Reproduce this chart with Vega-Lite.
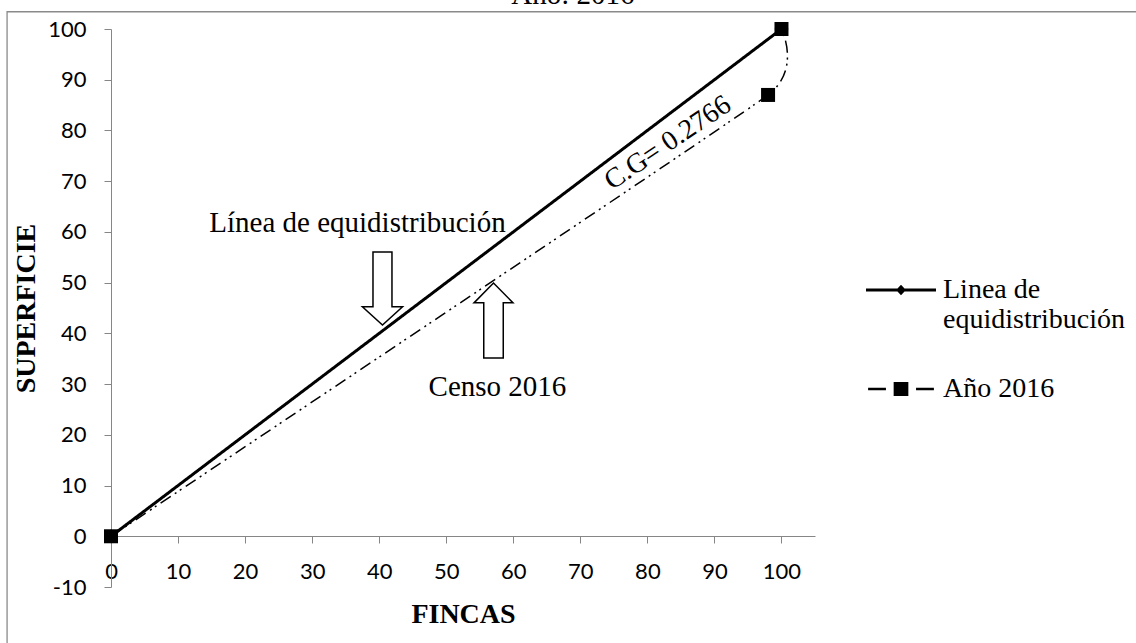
{
  "$schema": "https://vega.github.io/schema/vega-lite/v6.json",
  "autosize": {"type": "none"},
  "width": 704,
  "height": 558,
  "padding": {"left": 111, "top": 29, "right": 321, "bottom": 56},
  "background": "white",
  "config": {
    "view": {"stroke": null},
    "axis": {"grid": false, "domainColor": "#868686", "tickColor": "#868686", "tickSize": 7, "labelFont": "Lato", "labelFontSize": 22, "labelColor": "black", "titleFont": "Liberation Serif", "titleFontSize": 28, "titleFontWeight": "bold", "titleColor": "black", "labelFlush": false, "labelOverlap": false}
  },
  "resolve": {"scale": {"shape": "independent"}, "legend": {"shape": "independent"}},
  "datasets": {
    "lorenz": [
      {"serie": "Linea de equidistribución", "fincas": 0, "superficie": 0},
      {"serie": "Linea de equidistribución", "fincas": 100, "superficie": 100},
      {"serie": "Año 2016", "fincas": 0, "superficie": 0},
      {"serie": "Año 2016", "fincas": 98, "superficie": 87},
      {"serie": "Año 2016", "fincas": 100, "superficie": 100}
    ]
  },
  "layer": [
    {
      "data": {"values": [{}]},
      "mark": {"type": "rect", "fill": null, "stroke": "#8a8a8a", "strokeWidth": 1.3, "clip": false},
      "encoding": {
        "x": {"datum": -15.5, "type": "quantitative", "scale": {"domain": [0, 105], "nice": false, "zero": false}},
        "x2": {"datum": 200},
        "y": {"datum": 103.4, "type": "quantitative", "scale": {"domain": [-10, 100], "nice": false}},
        "y2": {"datum": -40}
      }
    },
    {
      "data": {"values": [{}]},
      "mark": {"type": "text", "text": "Año: 2016", "font": "Liberation Serif", "fontSize": 29, "color": "black", "align": "center", "baseline": "alphabetic", "clip": false},
      "encoding": {"x": {"datum": 68.9, "type": "quantitative"}, "y": {"datum": 104.9, "type": "quantitative"}}
    },
    {
      "data": {"name": "lorenz"},
      "mark": {"type": "line", "interpolate": "cardinal", "tension": 0.7, "clip": false},
      "encoding": {
        "x": {"field": "fincas", "type": "quantitative", "scale": {"domain": [0, 105], "nice": false, "zero": false},
          "axis": {"values": [0, 10, 20, 30, 40, 50, 60, 70, 80, 90, 100], "title": "FINCAS", "offset": -51, "labelPadding": 18, "titleY": 86, "titleBaseline": "alphabetic"}},
        "y": {"field": "superficie", "type": "quantitative", "scale": {"domain": [-10, 100], "nice": false},
          "axis": {"values": [-10, 0, 10, 20, 30, 40, 50, 60, 70, 80, 90, 100], "title": "SUPERFICIE", "labelPadding": 18, "titleX": -85, "titleY": 279, "titleAngle": 270, "titleAlign": "center", "titleBaseline": "middle",
            "labelExpr": "datum.value < 0 ? '-' + abs(datum.value) : datum.label"}},
        "color": {"field": "serie", "type": "nominal",
          "scale": {"domain": ["Linea de equidistribución", "Año 2016"], "range": ["black", "black"]}, "legend": null},
        "strokeDash": {"field": "serie", "type": "nominal",
          "scale": {"domain": ["Linea de equidistribución", "Año 2016"], "range": [[1, 0], [12, 5, 2, 4, 2, 5]]}, "legend": null},
        "strokeWidth": {"field": "serie", "type": "nominal",
          "scale": {"domain": ["Linea de equidistribución", "Año 2016"], "range": [3, 1.5]}, "legend": null}
      }
    },
    {
      "data": {"name": "lorenz"},
      "mark": {"type": "point", "filled": true, "size": 196, "opacity": 1, "color": "black", "clip": false},
      "encoding": {
        "x": {"field": "fincas", "type": "quantitative"},
        "y": {"field": "superficie", "type": "quantitative"},
        "shape": {"field": "serie", "type": "nominal",
          "scale": {"domain": ["Linea de equidistribución", "Año 2016"], "range": ["diamond", "square"]}, "legend": null}
      }
    },
    {
      "data": {"name": "lorenz"},
      "transform": [{"filter": "false"}],
      "mark": {"type": "point", "filled": true, "color": "black", "opacity": 1},
      "encoding": {
        "shape": {"field": "serie", "type": "nominal",
          "scale": {"domain": ["Linea de equidistribución", "Año 2016"], "range": [
            "M-1,-0.043H1V0.043H-1Z M0,-0.15L0.14,0L0,0.15L-0.14,0Z",
            "M-0.94,-0.033H-0.43V0.033H-0.94Z M0.43,-0.033H0.94V0.033H0.43Z M-0.21,-0.2H0.21V0.2H-0.21Z"]},
          "legend": {
            "title": null, "orient": "none", "legendX": 754, "legendY": 225,
            "labelFont": "Liberation Serif", "labelFontSize": 28, "labelColor": "black", "labelLimit": 0,
            "labelOffset": 6, "symbolSize": 4900, "rowPadding": 19, "padding": 0,
            "symbolFillColor": "black", "symbolOpacity": 1,
            "labelExpr": "datum.value === 'Año 2016' ? datum.value : ['Linea de', 'equidistribución']",
            "encode": {
              "symbols": {"update": {"fill": {"value": "black"}}},
              "labels": {"update": {
                "lineHeight": {"value": 34},
                "dy": {"signal": "datum.value === 'Año 2016' ? 0 : 17"}
              }}
            }
          }}
      }
    },
    {
      "data": {"values": [{}]},
      "mark": {"type": "point", "filled": true, "fill": "white", "stroke": "black", "strokeWidth": 1.5, "opacity": 1, "size": 5329,
        "shape": "M-0.26,-1L0.26,-1L0.26,0.5L0.55,0.5L0,1L-0.55,0.5L-0.26,0.5Z"},
      "encoding": {"x": {"datum": 40.49, "type": "quantitative"}, "y": {"datum": 48.84, "type": "quantitative"}}
    },
    {
      "data": {"values": [{}]},
      "mark": {"type": "point", "filled": true, "fill": "white", "stroke": "black", "strokeWidth": 1.5, "opacity": 1, "size": 5625,
        "shape": "M-0.26,1L0.26,1L0.26,-0.47L0.52,-0.47L0,-1L-0.52,-0.47L-0.26,-0.47Z"},
      "encoding": {"x": {"datum": 57.05, "type": "quantitative"}, "y": {"datum": 42.54, "type": "quantitative"}}
    },
    {
      "data": {"values": [{}]},
      "mark": {"type": "text", "text": "Línea de equidistribución", "font": "Liberation Serif", "fontSize": 29, "color": "black", "align": "center", "baseline": "alphabetic"},
      "encoding": {"x": {"datum": 36.76, "type": "quantitative"}, "y": {"datum": 60.0, "type": "quantitative"}}
    },
    {
      "data": {"values": [{}]},
      "mark": {"type": "text", "text": "Censo 2016", "font": "Liberation Serif", "fontSize": 29, "color": "black", "align": "center", "baseline": "alphabetic"},
      "encoding": {"x": {"datum": 57.64, "type": "quantitative"}, "y": {"datum": 27.66, "type": "quantitative"}}
    },
    {
      "data": {"values": [{}]},
      "mark": {"type": "text", "text": "C.G= 0.2766", "font": "Liberation Serif", "fontSize": 28, "color": "black", "align": "center", "baseline": "middle", "angle": -34},
      "encoding": {"x": {"datum": 83.07, "type": "quantitative"}, "y": {"datum": 77.5, "type": "quantitative"}}
    }
  ]
}
